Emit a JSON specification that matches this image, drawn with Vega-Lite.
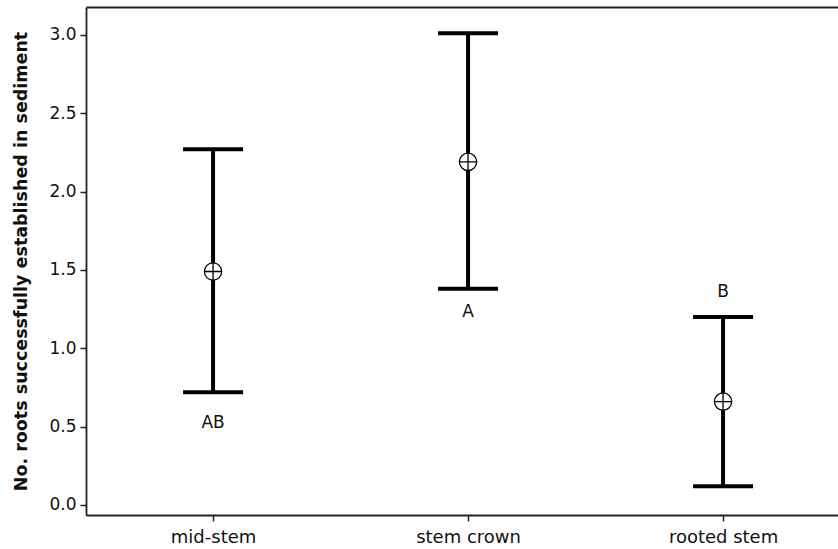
{
  "$schema": "https://vega.github.io/schema/vega-lite/v6.json",
  "width": 752,
  "height": 508,
  "autosize": {"type": "none"},
  "padding": {"left": 86, "top": 7, "right": 0, "bottom": 34},
  "background": "white",
  "config": {
    "view": {"stroke": null},
    "font": "DejaVu Sans",
    "axis": {"grid": false, "domain": true, "domainColor": "#222", "domainWidth": 1.8, "tickColor": "#222", "tickWidth": 1.5, "tickSize": 6,
      "labelFont": "DejaVu Sans", "labelFontSize": 17, "labelColor": "#111",
      "titleFont": "DejaVu Sans", "titleColor": "#111"}
  },
  "data": {"values": [
    {"position": "mid-stem", "mean": 1.49, "lower": 0.72, "upper": 2.27, "letter": "AB", "label_y": 0.52},
    {"position": "stem crown", "mean": 2.19, "lower": 1.38, "upper": 3.01, "letter": "A", "label_y": 1.23},
    {"position": "rooted stem", "mean": 0.66, "lower": 0.12, "upper": 1.2, "letter": "B", "label_y": 1.36}
  ]},
  "resolve": {"axis": {"x": "independent"}},
  "layer": [
    {"mark": {"type": "rule", "color": "black", "strokeWidth": 4},
     "encoding": {
       "x": {"field": "position", "type": "nominal", "sort": ["mid-stem", "stem crown", "rooted stem"],
         "scale": {"type": "point", "padding": 0.4745, "align": 0.525},
         "axis": {"title": null, "labelAngle": 0, "labelPadding": 7, "labelFontSize": 18, "orient": "bottom"}},
       "y": {"field": "lower", "type": "quantitative",
         "scale": {"domain": [-0.064, 3.178], "nice": false, "zero": false},
         "axis": {"title": "No. roots successfully established in sediment", "titleFontSize": 17.5, "titleFontWeight": "bold",
           "values": [0, 0.5, 1, 1.5, 2, 2.5, 3], "format": ".1f", "labelPadding": 4, "titlePadding": 18}},
       "y2": {"field": "upper"}}},
    {"mark": {"type": "tick", "color": "black", "opacity": 1, "thickness": 4, "size": 60, "orient": "horizontal"},
     "encoding": {
       "x": {"field": "position", "type": "nominal", "sort": ["mid-stem", "stem crown", "rooted stem"],
         "axis": {"orient": "top", "title": null, "labels": false, "ticks": false, "domain": true}},
       "y": {"field": "upper", "type": "quantitative"}}},
    {"mark": {"type": "tick", "color": "black", "opacity": 1, "thickness": 4, "size": 60, "orient": "horizontal"},
     "encoding": {
       "x": {"field": "position", "type": "nominal", "sort": ["mid-stem", "stem crown", "rooted stem"], "axis": null},
       "y": {"field": "lower", "type": "quantitative"}}},
    {"mark": {"type": "point", "shape": "circle", "filled": true, "fill": "white", "stroke": "black", "strokeWidth": 1.3, "size": 300, "opacity": 1},
     "encoding": {
       "x": {"field": "position", "type": "nominal", "sort": ["mid-stem", "stem crown", "rooted stem"], "axis": null},
       "y": {"field": "mean", "type": "quantitative"}}},
    {"mark": {"type": "point", "shape": "M-1,0L1,0M0,-1L0,1", "filled": false, "stroke": "black", "strokeWidth": 1.3, "size": 300, "opacity": 1},
     "encoding": {
       "x": {"field": "position", "type": "nominal", "sort": ["mid-stem", "stem crown", "rooted stem"], "axis": null},
       "y": {"field": "mean", "type": "quantitative"}}},
    {"mark": {"type": "text", "fontSize": 17, "color": "#111", "font": "DejaVu Sans"},
     "encoding": {
       "x": {"field": "position", "type": "nominal", "sort": ["mid-stem", "stem crown", "rooted stem"], "axis": null},
       "y": {"field": "label_y", "type": "quantitative"}, "text": {"field": "letter"}}}
  ]
}
